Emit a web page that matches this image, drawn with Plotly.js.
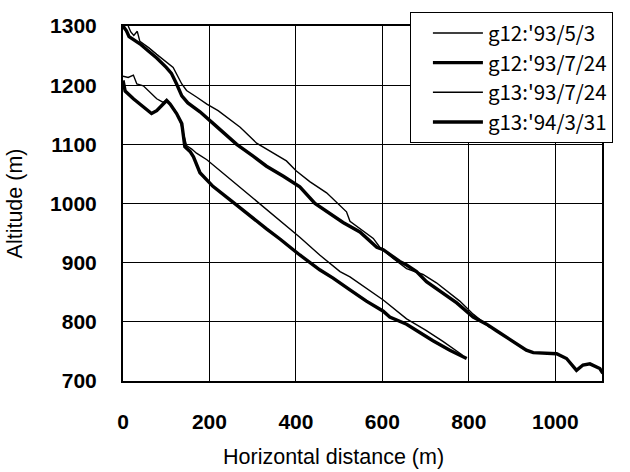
<!DOCTYPE html>
<html>
<head>
<meta charset="utf-8">
<script src="https://cdn.plot.ly/plotly-3.0.1.min.js"></script>
<style>html,body{margin:0;padding:0;background:#fff;}#chart{width:630px;height:472px;}</style>
</head>
<body>
<div id="chart"></div>
<script>
// g12 '93/5/3 (thin)
const g12a_x = [12, 18, 25, 33, 39, 60, 78, 100, 116, 136, 147, 170, 194, 220, 240, 271, 309, 340, 378, 401, 432, 471, 494, 517, 525, 548, 579, 594, 625, 656, 694, 725, 779, 810, 849];
const g12a_y = [1300, 1290, 1284, 1291, 1274, 1263, 1252, 1240, 1230, 1202, 1191, 1180, 1168, 1157, 1146, 1129, 1102, 1088, 1072, 1055, 1037, 1018, 1002, 986, 970, 958, 941, 926, 907, 890, 880, 866, 835, 813, 790];
// g12 '93/7/24 (thick)
const g12b_x = [0, 8, 14, 25, 39, 60, 78, 100, 112, 124, 136, 150, 178, 209, 235, 263, 301, 332, 371, 409, 444, 470, 509, 548, 587, 602, 640, 656, 679, 702, 733, 772, 810, 841, 864, 887, 933, 949, 975, 1003, 1026, 1049, 1064, 1080, 1103, 1110];
const g12b_y = [1300, 1292, 1282, 1277, 1270, 1257, 1246, 1230, 1220, 1202, 1182, 1170, 1155, 1135, 1118, 1100, 1080, 1063, 1046, 1028, 1000, 987, 968, 952, 926, 922, 902, 896, 885, 868, 852, 832, 808, 796, 785, 774, 752, 748, 747, 746, 738, 718, 727, 729, 721, 713];
// g13 '93/7/24 (thin)
const g13a_x = [0, 12, 24, 32, 47, 62, 78, 93, 101, 110, 120, 132, 139, 147, 159, 170, 194, 240, 286, 332, 378, 409, 455, 502, 525, 563, 602, 656, 700, 740, 785];
const g13a_y = [1215, 1213, 1217, 1202, 1199, 1188, 1177, 1171, 1175, 1167, 1158, 1140, 1118, 1098, 1092, 1085, 1074, 1046, 1018, 991, 963, 943, 913, 885, 876, 856, 837, 805, 786, 767, 744];
// g13 '94/3/31 (thick)
const g13b_x = [0, 5, 24, 39, 55, 66, 78, 89, 101, 109, 124, 136, 139, 143, 155, 163, 178, 208, 255, 301, 332, 363, 409, 455, 486, 525, 563, 602, 617, 656, 679, 717, 756, 795];
const g13b_y = [1208, 1190, 1177, 1168, 1157, 1152, 1157, 1166, 1174, 1168, 1152, 1135, 1113, 1096, 1088, 1079, 1052, 1029, 1002, 974, 957, 940, 913, 888, 874, 854, 835, 818, 808, 796, 785, 768, 752, 738];

const seriesNames = ["g12:'93/5/3", "g12:'93/7/24", "g13:'93/7/24", "g13:'94/3/31"];
const xTicks = [0, 200, 400, 600, 800, 1000];
const yTicks = [700, 800, 900, 1000, 1100, 1200, 1300];

const xs = [g12a_x, g12b_x, g13a_x, g13b_x];
const ys = [g12a_y, g12b_y, g13a_y, g13b_y];
const widths = [1.4, 3.4, 1.4, 3.4];

const traces = seriesNames.map((n, i) => ({
  x: xs[i], y: ys[i], name: n, type: 'scatter', mode: 'lines',
  line: {color: '#000', width: widths[i]}
}));

const tickFont = {family: 'Liberation Sans, Arial, sans-serif', size: 21, color: '#000', weight: 'bold'};
const titleFont = {family: 'Liberation Sans, Arial, sans-serif', size: 21.5, color: '#000'};

const layout = {
  width: 630, height: 472,
  margin: {l: 123, r: 28, t: 21, b: 91},
  paper_bgcolor: '#fff', plot_bgcolor: '#fff',
  showlegend: true,
  legend: {
    x: 0.599, y: 1.039, xanchor: 'left', yanchor: 'top',
    bgcolor: '#fff', bordercolor: '#000', borderwidth: 1,
    font: {family: 'Noto Sans CJK JP, sans-serif', size: 20.5, color: '#000'},
    tracegroupgap: 0, itemwidth: 67
  },
  xaxis: {
    range: [0, 1108], tickvals: xTicks, ticktext: xTicks.map(String),
    showgrid: true, gridcolor: '#000', gridwidth: 1,
    showline: true, linecolor: '#000', linewidth: 2, mirror: true,
    ticks: '', zeroline: false, tickfont: tickFont, ticklabelstandoff: 21,
    automargin: false
  },
  yaxis: {
    range: [700, 1300], tickvals: yTicks, ticktext: yTicks.map(String),
    showgrid: true, gridcolor: '#000', gridwidth: 1,
    showline: true, linecolor: '#000', linewidth: 2, mirror: true,
    ticks: '', zeroline: false, tickfont: tickFont, ticklabelstandoff: 20,
    title: {text: 'Altitude (m)', font: titleFont, standoff: 22},
    automargin: false
  },
  annotations: [{
    text: 'Horizontal distance (m)', xref: 'paper', yref: 'paper',
    x: 0.44, y: -0.213, xanchor: 'center', yanchor: 'middle', showarrow: false,
    font: titleFont
  }]
};

Plotly.newPlot('chart', traces, layout, {displayModeBar: false, staticPlot: true}).then(gd => {
  // lengthen the legend line samples to match the reference
  gd.querySelectorAll('.legend .legendlines path').forEach(p => p.setAttribute('d', 'M22,0h50'));
});
</script>
</body>
</html>
